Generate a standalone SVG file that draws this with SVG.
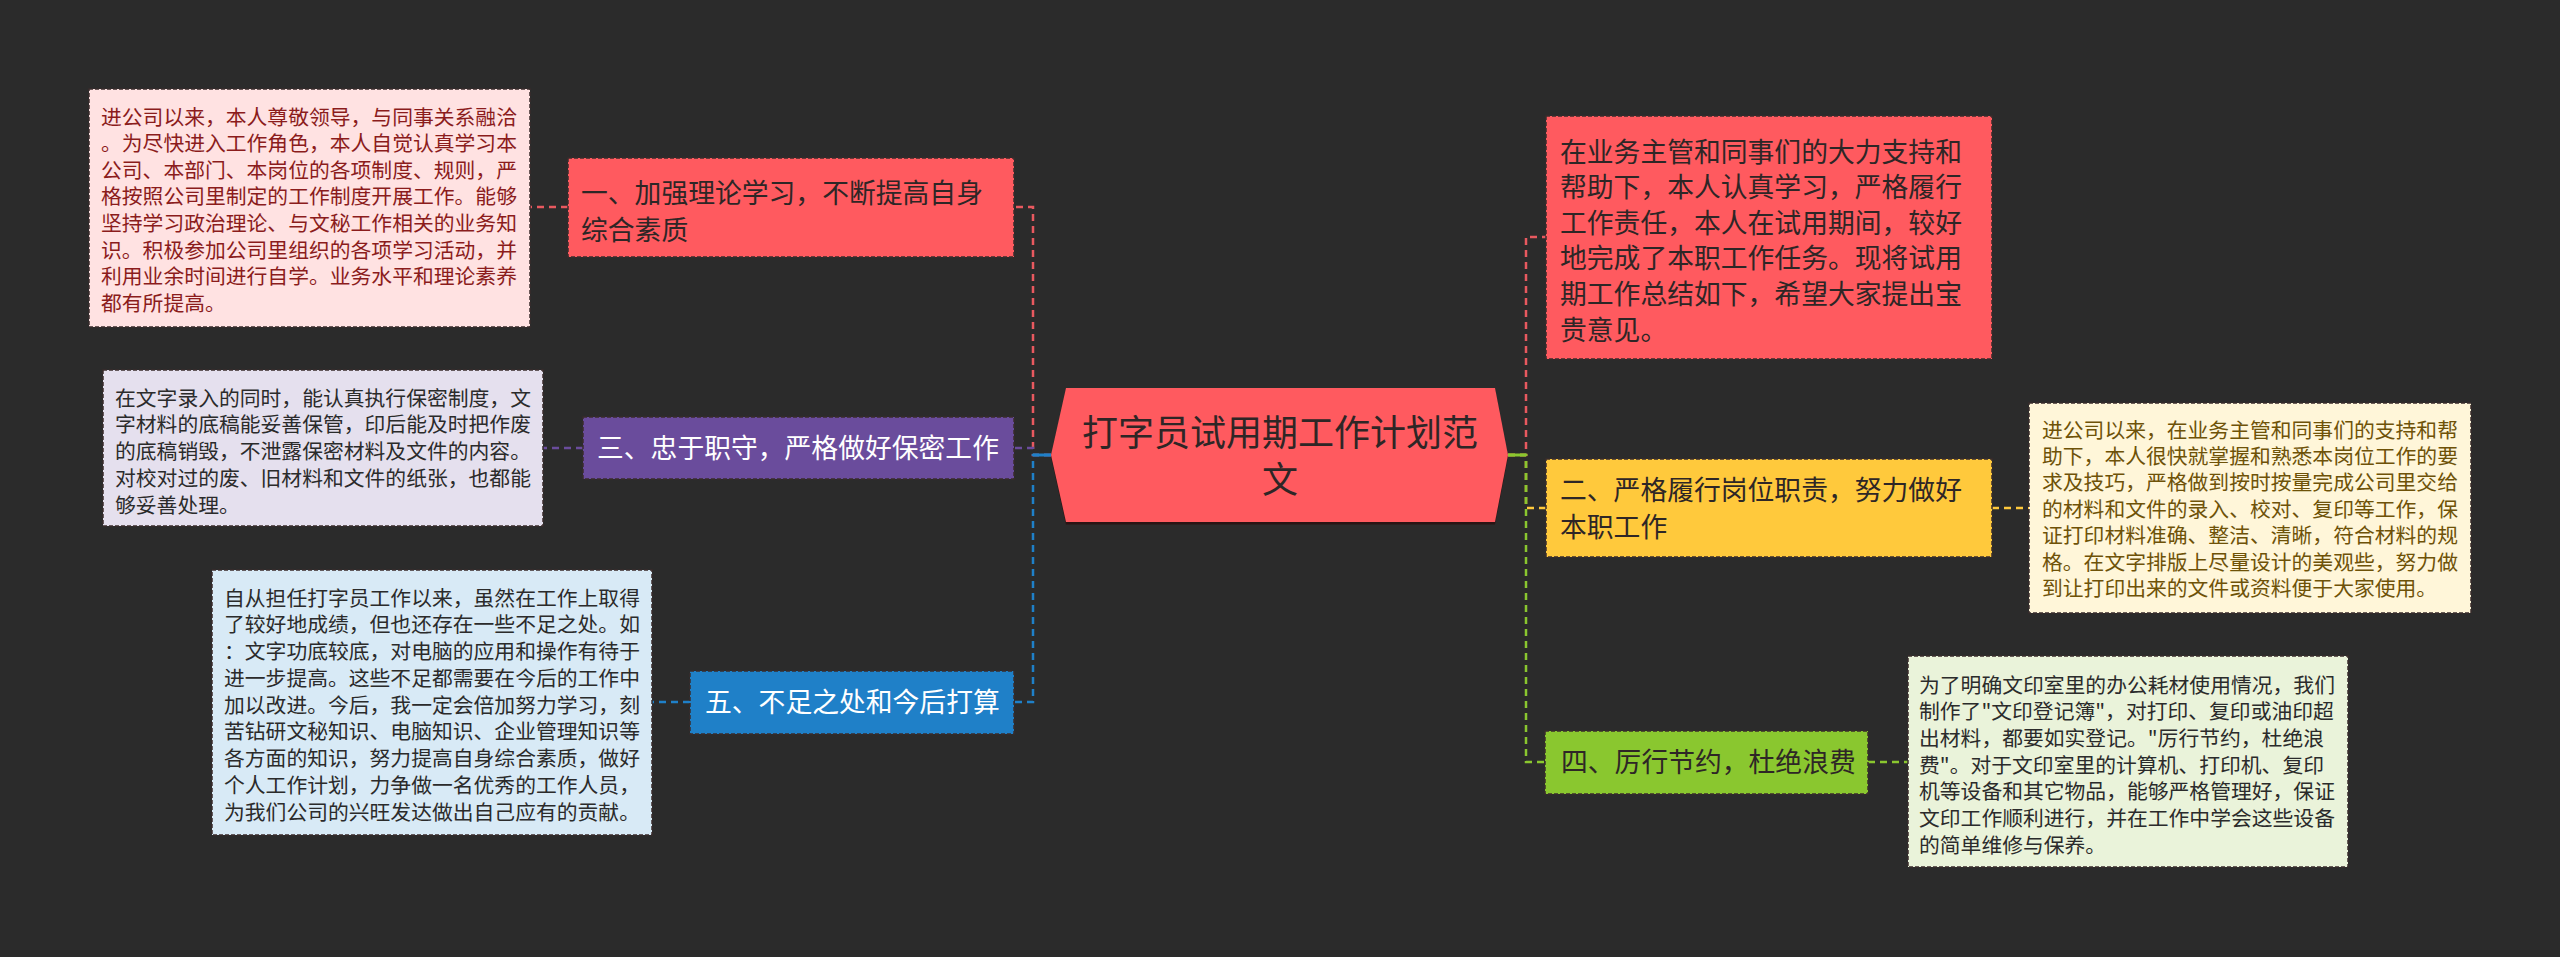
<svg xmlns="http://www.w3.org/2000/svg" width="2560" height="957" viewBox="0 0 2560 957">
<style>
text{font-family:"Noto Sans CJK SC","Microsoft YaHei","Noto Sans",sans-serif;}
.leaf{font-size:20.8px;}
.node{font-size:26.8px;}
.box{stroke:#3a2c2c;stroke-width:1.5;stroke-dasharray:4 2;}
.con{fill:none;stroke-width:2.5;stroke-dasharray:7 5;}
.stub{fill:none;stroke-width:3;}
</style>
<rect x="0" y="0" width="2560" height="957" fill="#2b2b2b"/>
<g id="connectors">
<path class="con" stroke="#e8595f" d="M1051 455 H1033 V207 H1014"/>
<path class="con" stroke="#6a4c9c" d="M1051 455 H1033 V448 H1014"/>
<path class="con" stroke="#1f80c8" d="M1051 455 H1033 V702 H1014"/>
<path class="stub" stroke="#1f80c8" d="M1033 455 H1051"/>
<path class="con" stroke="#e8595f" d="M1508 455 H1526 V237 H1546"/>
<path class="con" stroke="#ffc93c" d="M1508 455 H1526 V508 H1546"/>
<path class="con" stroke="#8ac72f" d="M1508 455 H1526 V762 H1546"/>
<path class="stub" stroke="#8ac72f" d="M1508 455 H1526"/>
<path class="con" stroke="#e8595f" d="M568 207 H530"/>
<path class="con" stroke="#6a4c9c" d="M583 448 H543"/>
<path class="con" stroke="#1f80c8" d="M690 702 H652"/>
<path class="con" stroke="#ffc93c" d="M1992 508 H2029"/>
<path class="con" stroke="#8ac72f" d="M1868 762 H1908"/>
</g>
<g id="center">
<polygon points="1066,390 1495,390 1508,457 1495,524.5 1066,524.5 1051,457" fill="#2a1414"/>
<polygon points="1066,388 1495,388 1508,455 1495,522 1066,522 1051,455" fill="#ff5a5f"/>
<text x="1280" y="446" text-anchor="middle" font-size="36" fill="#2e2626">打字员试用期工作计划范</text>
<text x="1280" y="493" text-anchor="middle" font-size="36" fill="#2e2626">文</text>
</g>
<g id="n1">
<rect class="box" x="568" y="158" width="446" height="99" fill="#ff5a5f"/>
<text class="node" x="581" fill="#2e2626"><tspan x="581" y="202.5">一、加强理论学习，不断提高自身</tspan><tspan x="581" y="239.5">综合素质</tspan></text>
</g>
<g id="leaf1">
<rect class="box" x="89" y="89" width="441" height="238" fill="#ffe2e2"/>
<text class="leaf" fill="#8b1c1c"><tspan x="101" y="124.5">进公司以来，本人尊敬领导，与同事关系融洽</tspan><tspan x="101" y="151.1">。为尽快进入工作角色，本人自觉认真学习本</tspan><tspan x="101" y="177.7">公司、本部门、本岗位的各项制度、规则，严</tspan><tspan x="101" y="204.3">格按照公司里制定的工作制度开展工作。能够</tspan><tspan x="101" y="230.9">坚持学习政治理论、与文秘工作相关的业务知</tspan><tspan x="101" y="257.5">识。积极参加公司里组织的各项学习活动，并</tspan><tspan x="101" y="284.1">利用业余时间进行自学。业务水平和理论素养</tspan><tspan x="101" y="310.7">都有所提高。</tspan></text>
</g>
<g id="n3">
<rect class="box" x="583" y="417" width="431" height="62" fill="#6a4c9c"/>
<text class="node" x="597" y="458" fill="#ffffff">三、忠于职守，严格做好保密工作</text>
</g>
<g id="leaf3">
<rect class="box" x="103" y="370" width="440" height="156" fill="#e5e0ee"/>
<text class="leaf" fill="#2b2b2b"><tspan x="115" y="405.5">在文字录入的同时，能认真执行保密制度，文</tspan><tspan x="115" y="432.3">字材料的底稿能妥善保管，印后能及时把作废</tspan><tspan x="115" y="459.1">的底稿销毁，不泄露保密材料及文件的内容。</tspan><tspan x="115" y="485.9">对校对过的废、旧材料和文件的纸张，也都能</tspan><tspan x="115" y="512.7">够妥善处理。</tspan></text>
</g>
<g id="n5">
<rect class="box" x="690" y="671" width="324" height="63" fill="#1f80c8"/>
<text class="node" x="705" y="712" fill="#ffffff">五、不足之处和今后打算</text>
</g>
<g id="leaf5">
<rect class="box" x="212" y="570" width="440" height="265" fill="#d8eaf6"/>
<text class="leaf" fill="#2b2b2b"><tspan x="224" y="605.5">自从担任打字员工作以来，虽然在工作上取得</tspan><tspan x="224" y="632.2">了较好地成绩，但也还存在一些不足之处。如</tspan><tspan x="224" y="659">：文字功底较底，对电脑的应用和操作有待于</tspan><tspan x="224" y="685.7">进一步提高。这些不足都需要在今后的工作中</tspan><tspan x="224" y="712.5">加以改进。今后，我一定会倍加努力学习，刻</tspan><tspan x="224" y="739.2">苦钻研文秘知识、电脑知识、企业管理知识等</tspan><tspan x="224" y="766">各方面的知识，努力提高自身综合素质，做好</tspan><tspan x="224" y="792.7">个人工作计划，力争做一名优秀的工作人员，</tspan><tspan x="224" y="819.5">为我们公司的兴旺发达做出自己应有的贡献。</tspan></text>
</g>
<g id="nr1">
<rect class="box" x="1546" y="116" width="446" height="243" fill="#ff5a5f"/>
<text class="node" fill="#2e2626"><tspan x="1560" y="161.5">在业务主管和同事们的大力支持和</tspan><tspan x="1560" y="197.1">帮助下，本人认真学习，严格履行</tspan><tspan x="1560" y="232.7">工作责任，本人在试用期间，较好</tspan><tspan x="1560" y="268.3">地完成了本职工作任务。现将试用</tspan><tspan x="1560" y="303.9">期工作总结如下，希望大家提出宝</tspan><tspan x="1560" y="339.5">贵意见。</tspan></text>
</g>
<g id="n2">
<rect class="box" x="1546" y="459" width="446" height="98" fill="#ffc93c"/>
<text class="node" fill="#2e2626"><tspan x="1560" y="499.5">二、严格履行岗位职责，努力做好</tspan><tspan x="1560" y="536.5">本职工作</tspan></text>
</g>
<g id="leaf2">
<rect class="box" x="2029" y="403" width="442" height="210" fill="#fff6d9"/>
<text class="leaf" fill="#6e5208"><tspan x="2042" y="437.5">进公司以来，在业务主管和同事们的支持和帮</tspan><tspan x="2042" y="463.9">助下，本人很快就掌握和熟悉本岗位工作的要</tspan><tspan x="2042" y="490.3">求及技巧，严格做到按时按量完成公司里交给</tspan><tspan x="2042" y="516.7">的材料和文件的录入、校对、复印等工作，保</tspan><tspan x="2042" y="543.1">证打印材料准确、整洁、清晰，符合材料的规</tspan><tspan x="2042" y="569.5">格。在文字排版上尽量设计的美观些，努力做</tspan><tspan x="2042" y="595.9">到让打印出来的文件或资料便于大家使用。</tspan></text>
</g>
<g id="n4">
<rect class="box" x="1545" y="731" width="323" height="63" fill="#8ac72f"/>
<text class="node" x="1561" y="771.5" fill="#2e2626">四、厉行节约，杜绝浪费</text>
</g>
<g id="leaf4">
<rect class="box" x="1908" y="656" width="440" height="211" fill="#eaf3da"/>
<text class="leaf" fill="#2b2b2b"><tspan x="1919" y="692.5">为了明确文印室里的办公耗材使用情况，我们</tspan><tspan x="1919" y="719.2">制作了"文印登记簿"，对打印、复印或油印超</tspan><tspan x="1919" y="745.9">出材料，都要如实登记。"厉行节约，杜绝浪</tspan><tspan x="1919" y="772.6">费"。对于文印室里的计算机、打印机、复印</tspan><tspan x="1919" y="799.3">机等设备和其它物品，能够严格管理好，保证</tspan><tspan x="1919" y="826">文印工作顺利进行，并在工作中学会这些设备</tspan><tspan x="1919" y="852.7">的简单维修与保养。</tspan></text>
</g>
</svg>
